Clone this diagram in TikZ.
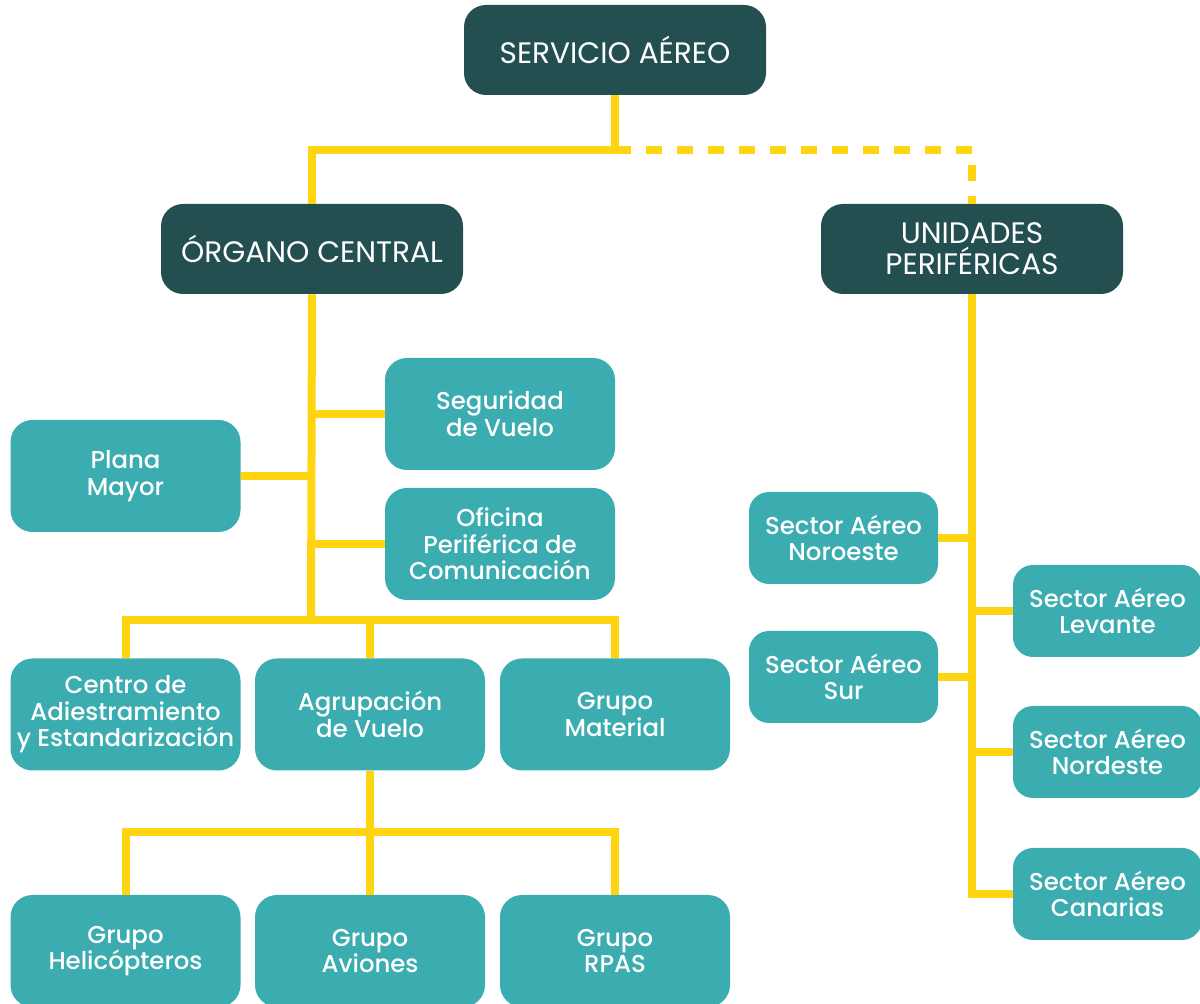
\documentclass[tikz,border=0pt]{standalone}
\usepackage{fontspec}
\setmainfont{Poppins}[UprightFont=* Medium]
\newfontfamily\topfont{Poppins}
\definecolor{dark}{HTML}{234F50}
\definecolor{lite}{HTML}{3BACB0}
\definecolor{gold}{HTML}{FFD410}
\tikzset{
  topbox/.style={fill=dark, rounded corners=11pt, minimum width=151pt, minimum height=45pt, text=white, align=center, font=\topfont\fontsize{14.8}{15.5}\selectfont, inner sep=0pt},
  unitbox/.style={fill=lite, rounded corners=11pt, minimum width=115pt, minimum height=56pt, text=white, align=center, font=\fontsize{12.2}{13.3}\selectfont, inner sep=0pt},
  secbox/.style={unitbox, minimum width=94.5pt, minimum height=46pt, rounded corners=10pt},
  conn/.style={draw=gold, line width=4pt},
  dconn/.style={conn, dash pattern=on 8pt off 7.5pt}
}
\begin{document}
\begin{tikzpicture}[x=0.5pt,y=-0.5pt]
\useasboundingbox (0,0) rectangle (1200,1004);
% nodes
\node[topbox] (sa) at (615,50) {SERVICIO AÉREO};
\node[topbox] (oc) at (312,249) {ÓRGANO CENTRAL};
\node[topbox] (up) at (972,249) {UNIDADES\\PERIFÉRICAS};
\node[unitbox] (seg) at (500,414) {Seguridad\\de Vuelo};
\node[unitbox] (pm) at (125.5,476) {Plana\\Mayor};
\node[unitbox] (of) at (500,544) {Oficina\\Periférica de\\Comunicación};
\node[unitbox] (ce) at (125.5,714.5) {Centro de\\Adiestramiento\\y Estandarización};
\node[unitbox] (ag) at (370,714.5) {Agrupación\\de Vuelo};
\node[unitbox] (gm) at (615,714.5) {Grupo\\Material};
\node[unitbox] (gh) at (125.5,951) {Grupo\\Helicópteros};
\node[unitbox] (av) at (370,951) {Grupo\\Aviones};
\node[unitbox] (rp) at (615,951) {Grupo\\RPAS};
\node[secbox] (no) at (843.5,538) {Sector Aéreo\\Noroeste};
\node[secbox] (su) at (843.5,677) {Sector Aéreo\\Sur};
\node[secbox] (le) at (1107.5,611) {Sector Aéreo\\Levante};
\node[secbox] (nd) at (1107.5,752) {Sector Aéreo\\Nordeste};
\node[secbox] (ca) at (1107.5,894) {Sector Aéreo\\Canarias};
% junctions
\coordinate (j0) at (615,150);
\coordinate (j1) at (311,620);
\coordinate (j2) at (370,832);
% top connectors
\draw[conn] (sa.south) -- (j0);
\draw[conn] (j0) -- (j0 -| oc.north) -- (oc.north);
\draw[dconn] (j0) -- (j0 -| up.north) -- (up.north);
% organo central
\draw[conn] (oc.south) -- (j1);
\draw[conn] (seg.west) -- (seg.west -| oc.south);
\draw[conn] (pm.east) -- (pm.east -| oc.south);
\draw[conn] (of.west) -- (of.west -| oc.south);
\draw[conn] (ce.north) -- (ce.north |- j1) -- (gm.north |- j1) -- (gm.north);
\draw[conn] (ag.north) -- (ag.north |- j1);
% agrupacion
\draw[conn] (ag.south) -- (j2);
\draw[conn] (gh.north) -- (gh.north |- j2) -- (rp.north |- j2) -- (rp.north);
\draw[conn] (av.north) -- (j2);
% unidades perifericas
\draw[conn] (up.south) -- (up.south |- ca.west) -- (ca.west);
\draw[conn] (no.east) -- (no.east -| up.south);
\draw[conn] (su.east) -- (su.east -| up.south);
\draw[conn] (le.west) -- (le.west -| up.south);
\draw[conn] (nd.west) -- (nd.west -| up.south);
\end{tikzpicture}
\end{document}
